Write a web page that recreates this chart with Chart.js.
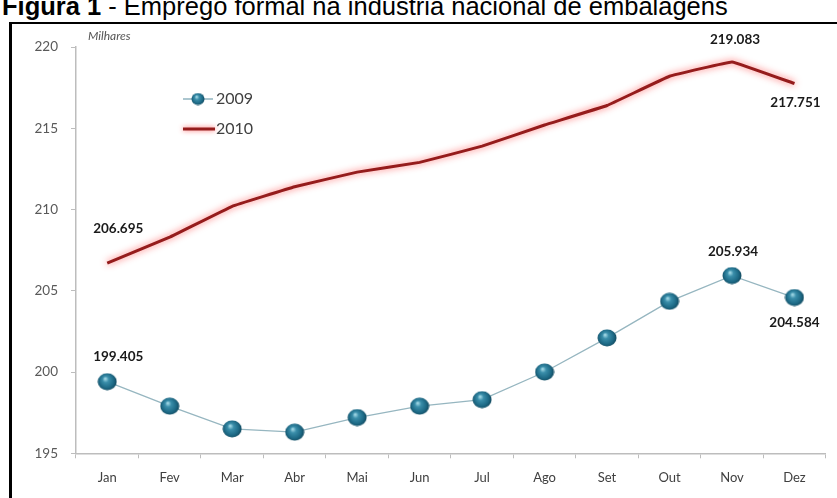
<!DOCTYPE html>
<html>
<head>
<meta charset="utf-8">
<script src="https://cdn.jsdelivr.net/npm/chart.js@4.4.1/dist/chart.umd.min.js"></script>
<style>
  html, body { margin: 0; padding: 0; background: #fff; overflow: hidden; }
  body { width: 837px; height: 498px; position: relative; }
  #title {
    position: absolute; left: 2px; top: -6px; white-space: nowrap;
    font-family: "Liberation Sans", Arial, sans-serif; font-size: 25.5px; color: #000;
    line-height: 24px;
  }
  #frame {
    position: absolute; left: 9px; top: 22px; width: 900px; height: 600px;
    border-left: 3px solid #000; border-top: 2px solid #000;
  }
  #wrap { position: absolute; left: 12px; top: 24px; width: 825px; height: 474px; }
</style>
</head>
<body>
<div id="title"><b>Figura 1</b> - Emprego formal na indústria nacional de embalagens</div>
<div id="frame"></div>
<div id="wrap"><canvas id="chart"></canvas></div>
<script>
// meses
const months = ['Jan', 'Fev', 'Mar', 'Abr', 'Mai', 'Jun', 'Jul', 'Ago', 'Set', 'Out', 'Nov', 'Dez'];
// emprego (milhares)
const emp2009 = [199.405, 197.9, 196.5, 196.3, 197.2, 197.9, 198.3, 200.0, 202.1, 204.35, 205.934, 204.584];
const emp2010 = [206.695, 208.3, 210.2, 211.4, 212.3, 212.9, 213.9, 215.2, 216.4, 218.2, 219.083, 217.751];
const yTicks = [195, 200, 205, 210, 215, 220];

// bolinha 3D do marcador
function makeBall(w, h) {
  const c = document.createElement('canvas');
  c.width = w; c.height = h;
  const g = c.getContext('2d');
  const grad = g.createRadialGradient(w * 0.4, h * 0.33, 0.5, w * 0.5, h * 0.5, w * 0.55);
  grad.addColorStop(0, '#9fd6e4');
  grad.addColorStop(0.25, '#3a8eaa');
  grad.addColorStop(0.65, '#1d6985');
  grad.addColorStop(1, '#0d3a4c');
  g.fillStyle = grad;
  g.beginPath();
  g.ellipse(w / 2, h / 2, w / 2 - 0.5, h / 2 - 0.5, 0, 0, Math.PI * 2);
  g.fill();
  return c;
}
const ball = makeBall(20, 18);
const smallBall = makeBall(14, 13);

const fmt = v => v.toFixed(3);

// rotulos de valor
const valueLabels = {
  id: 'valueLabels',
  afterDatasetsDraw(chart) {
    const ctx = chart.ctx;
    const marks = [
      [1, 0, 11, -35], [1, 10, 3, -22], [1, 11, 1, 19],
      [0, 0, 11, -25], [0, 10, 1, -24], [0, 11, 0, 25]
    ];
    ctx.save();
    ctx.font = 'bold 13.5px Lato, sans-serif';
    ctx.fillStyle = '#1a1a1a';
    ctx.textAlign = 'center';
    ctx.textBaseline = 'middle';
    marks.forEach(([ds, i, dx, dy]) => {
      const pt = chart.getDatasetMeta(ds).data[i];
      const v = chart.data.datasets[ds].data[i];
      ctx.fillText(fmt(v), pt.x + dx, pt.y + dy);
    });
    // unidade
    ctx.font = 'italic 12px Lato, sans-serif';
    ctx.fillStyle = '#555';
    ctx.textAlign = 'left';
    ctx.fillText('Milhares', chart.chartArea.left + 12, chart.chartArea.top - 11);

    // legenda
    const lx = chart.chartArea.left + 107, ly = chart.chartArea.top + 52;
    ctx.strokeStyle = '#8fb3bf';
    ctx.lineWidth = 1.5;
    ctx.beginPath(); ctx.moveTo(lx, ly); ctx.lineTo(lx + 30, ly); ctx.stroke();
    ctx.drawImage(smallBall, lx + 15 - 7, ly - 6.5);
    ctx.save();
    ctx.shadowColor = 'rgba(255,90,90,0.9)';
    ctx.shadowBlur = 5;
    ctx.strokeStyle = '#951c1c';
    ctx.lineWidth = 3;
    ctx.beginPath(); ctx.moveTo(lx, ly + 30); ctx.lineTo(lx + 32, ly + 30); ctx.stroke();
    ctx.restore();
    ctx.font = '16px Lato, sans-serif';
    ctx.fillStyle = '#404040';
    ctx.fillText(chart.data.datasets[0].label, lx + 33, ly);
    ctx.fillText(chart.data.datasets[1].label, lx + 33, ly + 30);
    ctx.restore();
  }
};

// brilho da linha vermelha
const glow = {
  id: 'glow',
  beforeDatasetDraw(chart, args) {
    if (args.index !== 1) return;
    chart.ctx.save();
    chart.ctx.shadowColor = 'rgba(255,80,80,0.9)';
    chart.ctx.shadowBlur = 7;
  },
  afterDatasetDraw(chart, args) {
    if (args.index !== 1) return;
    chart.ctx.restore();
  }
};

new Chart(document.getElementById('chart'), {
  type: 'line',
  data: {
    labels: months,
    datasets: [{
      label: '2009',
      data: emp2009,
      borderColor: '#96b6c0',
      borderWidth: 1.3,
      pointStyle: ball,
      pointRadius: 10,
      tension: 0
    }, {
      label: '2010',
      data: emp2010,
      borderColor: '#951c1c',
      borderWidth: 3,
      pointRadius: 0,
      tension: 0.05
    }]
  },
  options: {
    responsive: true,
    maintainAspectRatio: false,
    animation: false,
    layout: { padding: { top: 23, right: 4 } },
    plugins: {
      legend: { display: false },
      tooltip: { enabled: false }
    },
    scales: {
      x: {
        offset: true,
        afterFit: s => { s.height = 44.7; },
        grid: { offset: true, drawOnChartArea: false, tickLength: 5, color: '#bdbdbd' },
        border: { color: '#bdbdbd', width: 1.5 },
        ticks: { color: '#404040', padding: 12, font: { family: 'Lato', size: 13 } }
      },
      y: {
        min: 195,
        max: 220,
        afterFit: s => { s.width = 64; },
        afterBuildTicks: s => { s.ticks = yTicks.map(v => ({ value: v })); },
        grid: { drawOnChartArea: false, tickLength: 5, color: '#bdbdbd' },
        border: { color: '#bdbdbd', width: 1.5 },
        ticks: { color: '#595959', padding: 13, font: { family: 'Lato', size: 13.5 } }
      }
    }
  },
  plugins: [glow, valueLabels]
});
</script>
</body>
</html>
